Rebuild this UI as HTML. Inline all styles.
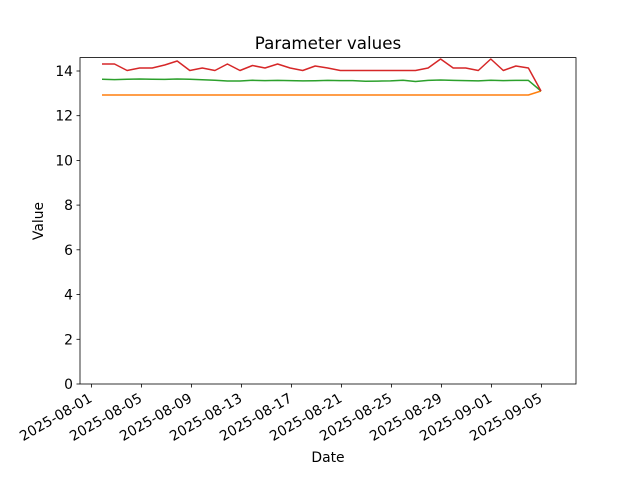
<!DOCTYPE html><html><head><style>body{margin:0;background:#fff}svg{display:block;font-family:"DejaVu Sans","Liberation Sans",sans-serif}</style></head><body>
<svg width="640" height="480" viewBox="0 0 640 480" xmlns="http://www.w3.org/2000/svg">
<rect width="640" height="480" fill="#fff"/>
<text x="328" y="49" font-size="16.7" text-anchor="middle">Parameter values</text>
<g fill="none" stroke-width="1.5" stroke-linejoin="round">
<polyline stroke="#ff7f0e" points="102,95 528.4,95 541,91"/>
<polyline stroke="#2ca02c" points="102,79.3 114.5,79.6 127.1,79.2 139.6,79 152.2,79.2 164.7,79.4 177.2,79 189.8,79.3 202.3,79.8 214.9,80.2 227.4,81 240,81 252.5,80.3 265,80.6 277.6,80.4 290.1,80.6 302.7,80.9 315.2,80.7 327.7,80.4 340.3,80.6 352.8,80.6 365.4,81.3 377.9,81.1 390.5,80.9 403,80.3 415.5,81.5 428.1,80.4 440.6,80 453.2,80.4 465.7,80.6 478.3,80.9 490.8,80.3 503.3,80.6 515.9,80.4 528.4,80.4 541,91"/>
<polyline stroke="#d62728" points="102,64 114.5,64 127.1,70.5 139.6,68 152.2,68 164.7,65 177.2,61 189.8,70.5 202.3,68 214.9,70.5 227.4,64 240,70.5 252.5,65.5 265,68 277.6,64 290.1,68 302.7,70.5 315.2,66 327.7,68 340.3,70.5 352.8,70.5 365.4,70.5 377.9,70.5 390.5,70.5 403,70.5 415.5,70.5 428.1,68 440.6,59 453.2,68 465.7,68 478.3,70.5 490.8,59 503.3,70.5 515.9,66 528.4,68 541,91"/>
</g>
<rect x="80" y="57.6" width="496" height="326.4" fill="none" stroke="#000" stroke-width="0.8"/>
<g stroke="#000" stroke-width="0.8">
<line x1="80" y1="384" x2="76.5" y2="384"/><line x1="80" y1="339.3" x2="76.5" y2="339.3"/><line x1="80" y1="294.6" x2="76.5" y2="294.6"/><line x1="80" y1="249.8" x2="76.5" y2="249.8"/><line x1="80" y1="205.1" x2="76.5" y2="205.1"/><line x1="80" y1="160.4" x2="76.5" y2="160.4"/><line x1="80" y1="115.7" x2="76.5" y2="115.7"/><line x1="80" y1="71" x2="76.5" y2="71"/>
<line x1="91.5" y1="384" x2="91.5" y2="387.5"/><line x1="141.5" y1="384" x2="141.5" y2="387.5"/><line x1="191.5" y1="384" x2="191.5" y2="387.5"/><line x1="241.5" y1="384" x2="241.5" y2="387.5"/><line x1="291.5" y1="384" x2="291.5" y2="387.5"/><line x1="341.5" y1="384" x2="341.5" y2="387.5"/><line x1="391.5" y1="384" x2="391.5" y2="387.5"/><line x1="441.5" y1="384" x2="441.5" y2="387.5"/><line x1="491.5" y1="384" x2="491.5" y2="387.5"/><line x1="541.5" y1="384" x2="541.5" y2="387.5"/>
</g>
<g font-size="13.9" text-anchor="end">
<text x="73" y="389">0</text><text x="73" y="344.3">2</text><text x="73" y="299.6">4</text><text x="73" y="254.8">6</text><text x="73" y="210.1">8</text><text x="73" y="165.4">10</text><text x="73" y="120.7">12</text><text x="73" y="76">14</text>
</g>
<g font-size="13.9" text-anchor="end">
<text transform="translate(93,401) rotate(-30)">2025-08-01</text>
<text transform="translate(143,401) rotate(-30)">2025-08-05</text>
<text transform="translate(193,401) rotate(-30)">2025-08-09</text>
<text transform="translate(243,401) rotate(-30)">2025-08-13</text>
<text transform="translate(293,401) rotate(-30)">2025-08-17</text>
<text transform="translate(343,401) rotate(-30)">2025-08-21</text>
<text transform="translate(393,401) rotate(-30)">2025-08-25</text>
<text transform="translate(443,401) rotate(-30)">2025-08-29</text>
<text transform="translate(493,401) rotate(-30)">2025-09-01</text>
<text transform="translate(543,401) rotate(-30)">2025-09-05</text>
</g>
<text x="328" y="462" font-size="13.9" text-anchor="middle">Date</text>
<text transform="translate(43,221) rotate(-90)" font-size="13.9" text-anchor="middle">Value</text>
</svg></body></html>
